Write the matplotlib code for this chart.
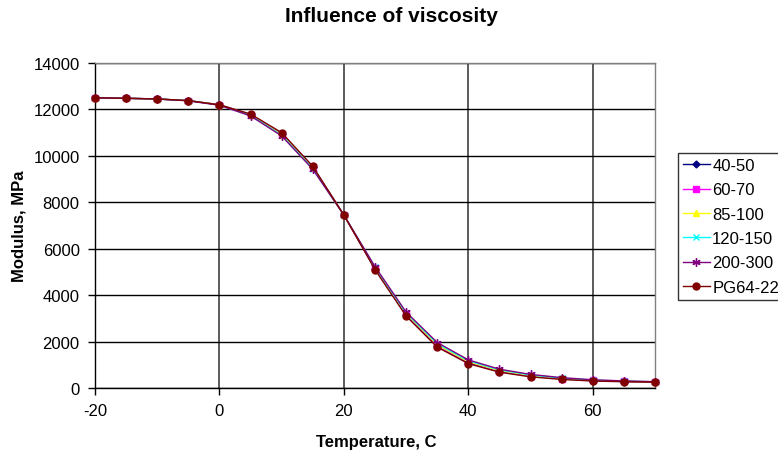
import matplotlib
matplotlib.use("Agg")
import matplotlib.pyplot as plt

plt.rcParams['font.family'] = ['Liberation Sans', 'DejaVu Sans']
plt.rcParams['axes.unicode_minus'] = False

temps = [-20, -15, -10, -5, 0, 5, 10, 15, 20, 25, 30, 35, 40, 45, 50, 55, 60, 65, 70]

s_40_50 = [12500, 12480, 12450, 12380, 12200, 11780, 10960, 9520, 7450, 5130, 3150, 1800, 1090, 710, 510, 390, 315, 280, 255]
s_60_70 = [12500, 12480, 12450, 12380, 12200, 11770, 10940, 9500, 7450, 5150, 3170, 1830, 1110, 730, 525, 400, 325, 285, 260]
s_85_100 = [12500, 12480, 12450, 12380, 12200, 11760, 10920, 9480, 7450, 5170, 3200, 1860, 1130, 750, 540, 410, 330, 290, 262]
s_120_150 = [12500, 12480, 12450, 12380, 12190, 11740, 10890, 9450, 7450, 5200, 3230, 1910, 1170, 780, 560, 425, 340, 295, 266]
s_200_300 = [12500, 12480, 12450, 12370, 12180, 11720, 10860, 9420, 7450, 5230, 3270, 1960, 1210, 810, 585, 445, 355, 305, 272]
s_pg64_22 = [12500, 12480, 12450, 12380, 12200, 11800, 11000, 9550, 7450, 5100, 3100, 1760, 1050, 680, 480, 370, 300, 270, 250]

labels = ['40-50', '60-70', '85-100', '120-150', '200-300', 'PG64-22']
series = [s_40_50, s_60_70, s_85_100, s_120_150, s_200_300, s_pg64_22]
colors = ['#000080', '#FF00FF', '#FFFF00', '#00FFFF', '#800080', '#800000']
markers = ['D', 's', '^', 'x', (6, 2, 0), 'o']
msizes = [3.5, 4.5, 5, 5, 6, 5]

W, H = 778, 456
fig = plt.figure(figsize=(W / 100, H / 100), dpi=100)
ax = fig.add_axes([95 / W, 1 - 389 / H, (655 - 95) / W, (389 - 64) / H])

handles = []
for lab, ys, c, m, ms in zip(labels, series, colors, markers, msizes):
    h, = ax.plot(temps, ys, color=c, marker=m, markersize=ms, linewidth=1.0,
                 markeredgecolor=c, markerfacecolor=c, markeredgewidth=1.0,
                 label=lab, zorder=3, clip_on=False)
    handles.append(h)

ax.set_xlim(-20, 70)
ax.set_ylim(0, 14000)
ax.set_xticks([-20, 0, 20, 40, 60])
ax.set_yticks(range(0, 14001, 2000))
ax.grid(True, color='black', linewidth=1.0, zorder=0)
ax.xaxis.grid(True, color='#404040', linewidth=1.2)
for sp in ax.spines.values():
    sp.set_color('#808080')
    sp.set_linewidth(1.0)
ax.spines['left'].set_color('black')
ax.spines['bottom'].set_color('black')
ax.tick_params(axis='both', direction='out', length=5, width=1, labelsize=12, colors='black')
ax.tick_params(axis='x', pad=6)
ax.tick_params(axis='y', pad=6)

fig.text(376 / W, 1 - 443 / H, 'Temperature, C', ha='center', va='center',
         fontsize=12, fontweight='bold')
fig.text(19 / W, 1 - 226 / H, 'Modulus, MPa', ha='center', va='center',
         rotation=90, fontsize=12, fontweight='bold')
fig.text(391 / W, 1 - 16 / H, 'Influence of viscosity', ha='center', va='center',
         fontsize=15, fontweight='bold')

leg = fig.legend(handles=handles, labels=labels, loc='upper left',
                 bbox_to_anchor=(678 / W, 1 - 154 / H), frameon=True, fancybox=False,
                 edgecolor='black', fontsize=12, handlelength=1.6, handletextpad=0.15,
                 labelspacing=0.56, borderpad=0.3, borderaxespad=0)
leg.get_frame().set_linewidth(1.0)

fig.savefig('out.png', dpi=100)
